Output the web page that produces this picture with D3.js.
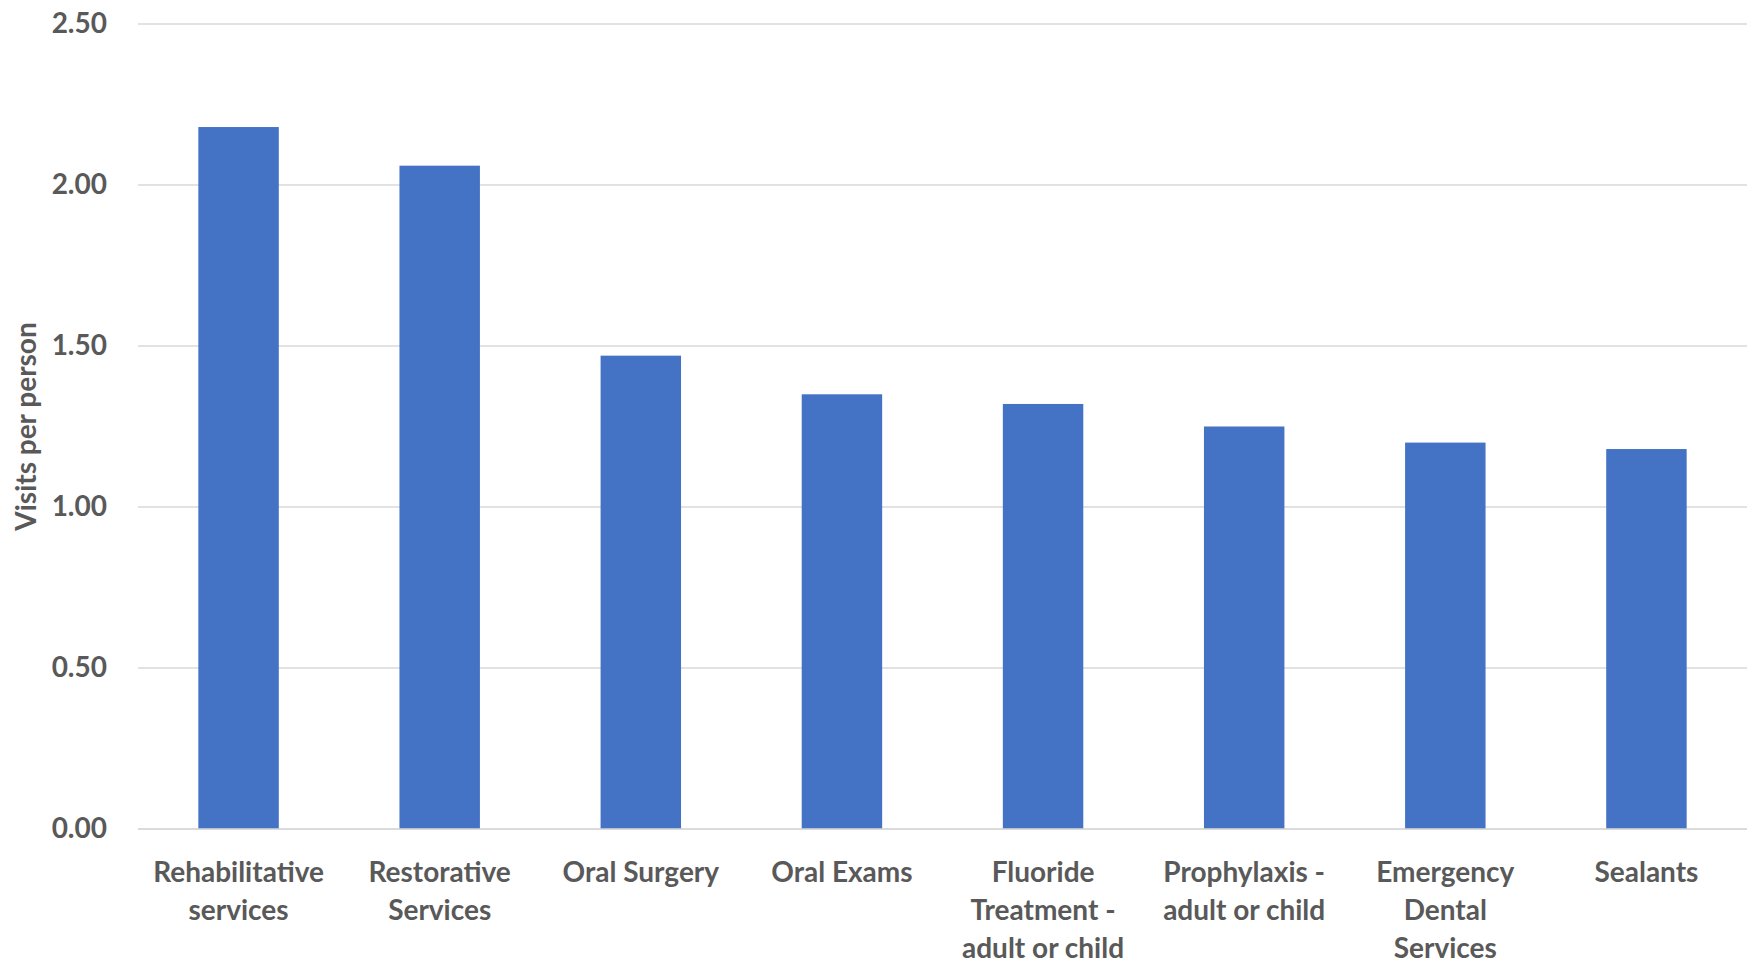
<!DOCTYPE html>
<html>
<head>
<meta charset="utf-8">
<script src="https://cdn.jsdelivr.net/npm/d3@7"></script>
<style>
  body { margin: 0; background: #fff; }
  text { font-family: Lato, "Open Sans", sans-serif; font-weight: 700; fill: #595959; }
</style>
</head>
<body>
<div class="chart"></div>
<script>
// data
var categories = [
    "Rehabilitative services",
    "Restorative Services",
    "Oral Surgery",
    "Oral Exams",
    "Fluoride Treatment - adult or child",
    "Prophylaxis - adult or child",
    "Emergency Dental Services",
    "Sealants"
];
var categoryLines = [
    ["Rehabilitative", "services"],
    ["Restorative", "Services"],
    ["Oral Surgery"],
    ["Oral Exams"],
    ["Fluoride", "Treatment -", "adult or child"],
    ["Prophylaxis -", "adult or child"],
    ["Emergency", "Dental", "Services"],
    ["Sealants"]
];
var visits = [2.18, 2.06, 1.47, 1.35, 1.32, 1.25, 1.20, 1.18];
var yTicks = [0, 0.5, 1.0, 1.5, 2.0, 2.5];

var svgWidth = 1756;
var svgHeight = 962;

var margin = { top: 24, right: 9, bottom: 133, left: 138 };
var width = svgWidth - margin.left - margin.right;
var height = svgHeight - margin.top - margin.bottom;

var svg = d3.select(".chart")
    .append("svg")
    .attr("width", svgWidth)
    .attr("height", svgHeight);

var chartGroup = svg.append("g")
    .attr("transform", `translate(${margin.left}, ${margin.top})`);

var xScale = d3.scaleBand()
    .domain(categories)
    .range([0, width])
    .paddingInner(0.6)
    .paddingOuter(0.3);

var yScale = d3.scaleLinear()
    .domain([0, 2.5])
    .range([height, 0]);

// gridlines
chartGroup.append("g")
    .selectAll("line")
    .data(yTicks)
    .enter()
    .append("line")
    .attr("x1", 0)
    .attr("x2", width)
    .attr("y1", d => yScale(d))
    .attr("y2", d => yScale(d))
    .attr("stroke", "#d9d9d9")
    .attr("stroke-width", 1.5);

// y axis labels
var leftAxis = d3.axisLeft(yScale)
    .tickValues(yTicks)
    .tickFormat(d3.format(".2f"))
    .tickSize(0)
    .tickPadding(31);

var yAxis = chartGroup.append("g").call(leftAxis);
yAxis.select(".domain").remove();
yAxis.selectAll("text")
    .style("font-size", "28px")
    .attr("fill", "#595959");

// bars
chartGroup.selectAll("rect")
    .data(visits)
    .enter()
    .append("rect")
    .attr("x", (d, i) => xScale(categories[i]))
    .attr("width", xScale.bandwidth())
    .attr("y", d => yScale(d))
    .attr("height", d => height - yScale(d))
    .attr("fill", "#4472C4");

// baseline
chartGroup.append("line")
    .attr("x1", 0)
    .attr("x2", width)
    .attr("y1", yScale(0))
    .attr("y2", yScale(0))
    .attr("stroke", "#d9d9d9")
    .attr("stroke-width", 1.5);

// x axis labels (wrapped)
var xLabels = chartGroup.append("g")
    .attr("transform", `translate(0, ${height})`);

xLabels.selectAll("text")
    .data(categories)
    .enter()
    .append("text")
    .attr("x", d => xScale(d) + xScale.bandwidth() / 2)
    .attr("y", 53)
    .attr("text-anchor", "middle")
    .style("font-size", "28px")
    .each(function (d, i) {
        var t = d3.select(this);
        categoryLines[i].forEach(function (line, j) {
            t.append("tspan")
                .attr("x", xScale(d) + xScale.bandwidth() / 2)
                .attr("dy", j === 0 ? 0 : 38)
                .text(line);
        });
    });

// y axis title
svg.append("text")
    .attr("transform", `translate(36, ${margin.top + height / 2}) rotate(-90)`)
    .attr("text-anchor", "middle")
    .style("font-size", "28px")
    .text("Visits per person");
</script>
</body>
</html>
